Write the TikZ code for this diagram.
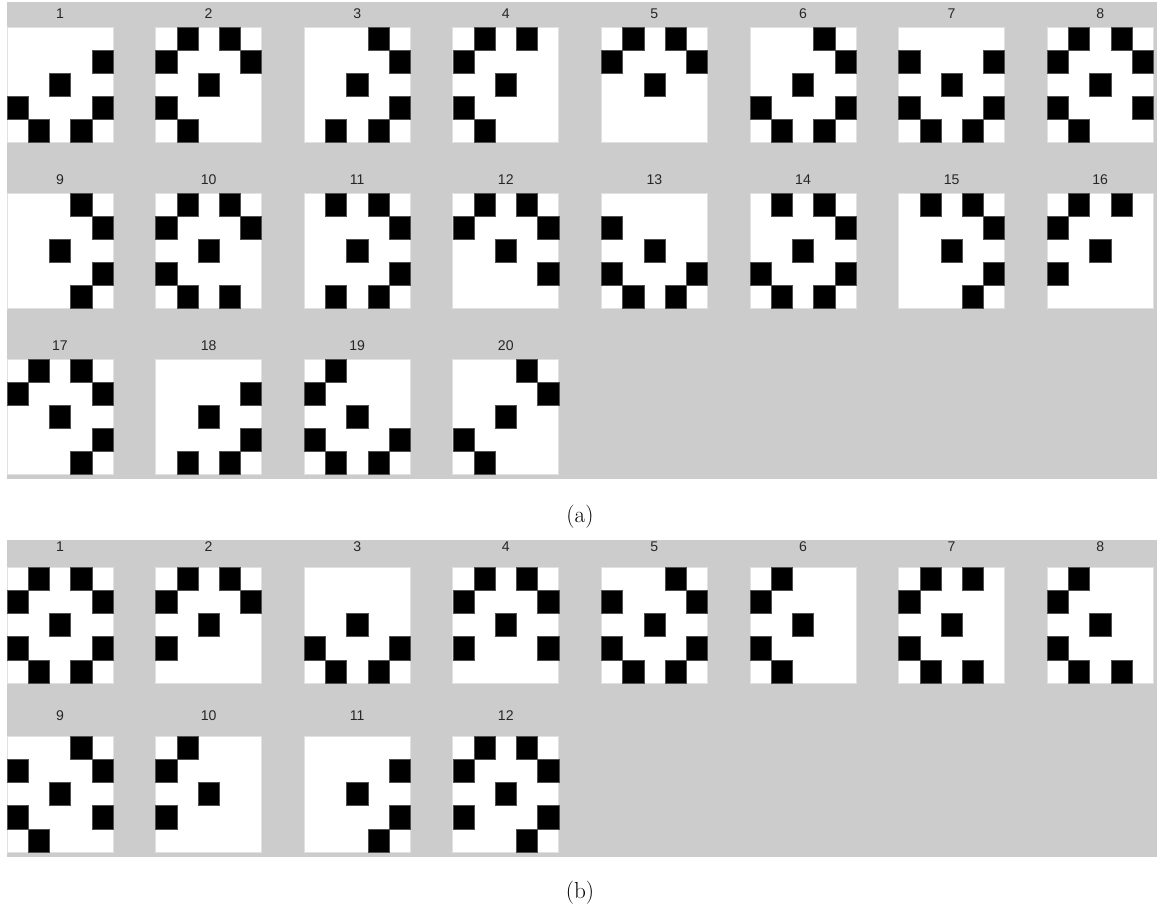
\documentclass[tikz,border=0pt]{standalone}
\usepackage{fontspec}
\usepackage{tikz}
\newfontfamily\numfont{Liberation Sans}
\definecolor{panelgray}{RGB}{204,204,204}
\definecolor{tileedge}{RGB}{225,225,225}
\definecolor{celledge}{RGB}{80,80,80}

\begin{document}
\begin{tikzpicture}[
    x=0.025cm, y=-0.025cm,
    panel/.style={fill=panelgray},
    tile/.style={fill=white, draw=tileedge, line width=0.5pt},
    cell/.style={fill=black, draw=celledge, line width=0.4pt},
    numlabel/.style={font=\numfont\fontsize{10}{12}\selectfont, text=black!85},
    caption/.style={font=\fontsize{16.5}{19}\selectfont},
]
    \useasboundingbox (0,0) rectangle (1160,910);

    % panel (a): 20 patterns
    \fill[panel] (7,2) rectangle (1157,479);
    \foreach \n/\cells in {
        1/{4/1,2/2,0/3,4/3,1/4,3/4},
        2/{1/0,3/0,0/1,4/1,2/2,0/3,1/4},
        3/{3/0,4/1,2/2,4/3,1/4,3/4},
        4/{1/0,3/0,0/1,2/2,0/3,1/4},
        5/{1/0,3/0,0/1,4/1,2/2},
        6/{3/0,4/1,2/2,0/3,4/3,1/4,3/4},
        7/{0/1,4/1,2/2,0/3,4/3,1/4,3/4},
        8/{1/0,3/0,0/1,4/1,2/2,0/3,4/3,1/4},
        9/{3/0,4/1,2/2,4/3,3/4},
        10/{1/0,3/0,0/1,4/1,2/2,0/3,1/4,3/4},
        11/{1/0,3/0,4/1,2/2,4/3,1/4,3/4},
        12/{1/0,3/0,0/1,4/1,2/2,4/3},
        13/{0/1,2/2,0/3,4/3,1/4,3/4},
        14/{1/0,3/0,4/1,2/2,0/3,4/3,1/4,3/4},
        15/{1/0,3/0,4/1,2/2,4/3,3/4},
        16/{1/0,3/0,0/1,2/2,0/3},
        17/{1/0,3/0,0/1,4/1,2/2,4/3,3/4},
        18/{4/1,2/2,4/3,1/4,3/4},
        19/{1/0,0/1,2/2,0/3,4/3,1/4,3/4},
        20/{3/0,4/1,2/2,0/3,1/4}} {
        \pgfmathtruncatemacro\col{mod(\n-1,8)}
        \pgfmathtruncatemacro\row{div(\n-1,8)}
        \pgfmathsetmacro\tx{7+148.6*\col}
        \pgfmathsetmacro\ty{27+166*\row}
        \node[numlabel] (a-num\n) at (\tx+53,\ty-13) {\n};
        \draw[tile] (\tx,\ty) rectangle ++(106,115);
        \foreach \c/\r in \cells
            \filldraw[cell] (\tx+21.2*\c,\ty+23*\r) rectangle ++(21.2,23);
    }
    \node[caption] (cap-a) at (580,517) {(a)};

    % panel (b): 12 patterns
    \fill[panel] (7,540) rectangle (1157,857);
    \foreach \n/\cells in {
        1/{1/0,3/0,0/1,4/1,2/2,0/3,4/3,1/4,3/4},
        2/{1/0,3/0,0/1,4/1,2/2,0/3},
        3/{2/2,0/3,4/3,1/4,3/4},
        4/{1/0,3/0,0/1,4/1,2/2,0/3,4/3},
        5/{3/0,0/1,4/1,2/2,0/3,4/3,1/4,3/4},
        6/{1/0,0/1,2/2,0/3,1/4},
        7/{1/0,3/0,0/1,2/2,0/3,1/4,3/4},
        8/{1/0,0/1,2/2,0/3,1/4,3/4},
        9/{3/0,0/1,4/1,2/2,0/3,4/3,1/4},
        10/{1/0,0/1,2/2,0/3},
        11/{4/1,2/2,4/3,3/4},
        12/{1/0,3/0,0/1,4/1,2/2,0/3,4/3,3/4}} {
        \pgfmathtruncatemacro\col{mod(\n-1,8)}
        \pgfmathtruncatemacro\row{div(\n-1,8)}
        \pgfmathsetmacro\tx{7+148.6*\col}
        \pgfmathsetmacro\ty{567+169*\row}
        \node[numlabel] (b-num\n) at (\tx+53,\ty-20) {\n};
        \draw[tile] (\tx,\ty) rectangle ++(106,116);
        \foreach \c/\r in \cells
            \filldraw[cell] (\tx+21.2*\c,\ty+23.2*\r) rectangle ++(21.2,23.2);
    }
    \node[caption] (cap-b) at (580,893) {(b)};
\end{tikzpicture}
\end{document}
